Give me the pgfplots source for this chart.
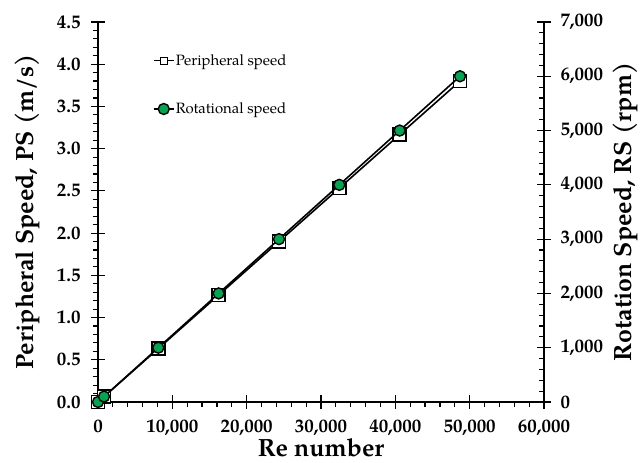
\documentclass[border=0pt]{standalone}
\usepackage{pgfplots}
\pgfplotsset{compat=1.18}
\usepackage{fontspec}
\setmainfont{TeX Gyre Pagella}
\definecolor{mygreen}{RGB}{0,166,80}
\begin{document}
\begin{tikzpicture}[x=1bp,y=1bp]
\pgfplotsset{
  common/.style={
    width=446bp, height=380bp, scale only axis,
    at={(0,0)}, anchor=south west,
    xmin=0, xmax=60000,
    tick label style={font=\fontsize{19}{22}\selectfont\bfseries},
    /pgf/number format/assume math mode=true,
    label style={font=\fontsize{25}{28}\selectfont\bfseries},
    major tick length=14bp, minor tick length=5bp,
    every tick/.style={black, line width=1.2bp},
    axis line style={line width=1.5bp},
  }
}
\begin{axis}[common,
  axis y line*=left, axis x line*=bottom,
  ymin=0, ymax=4.5,
  ytick={0,0.5,...,4.5},
  minor y tick num=4,
  xtick={0,10000,...,60000},
  minor x tick num=4,
  scaled x ticks=false,
  x tick label style={/pgf/number format/1000 sep={,}},
  y tick label style={/pgf/number format/.cd, fixed, fixed zerofill, precision=1},
  tick align=outside,
  major y tick style={xshift=7bp},
  major x tick style={yshift=7bp},
  xlabel={Re number},
  ylabel={Peripheral Speed, PS (m/s)},
  xlabel style={yshift=4bp},
  ylabel style={yshift=10bp},
]
\addplot[black, line width=1.6bp, mark=square*, mark size=6.5bp,
  mark options={fill=white, line width=1.7bp}] coordinates {
  (0,0) (812,0.063) (8117,0.633) (16233,1.267) (24350,1.900)
  (32467,2.533) (40583,3.167) (48700,3.800)
};
\end{axis}
\begin{axis}[common,
  axis y line*=right, axis x line=none,
  ymin=0, ymax=7000,
  ytick={0,1000,...,7000},
  minor y tick num=4,
  scaled y ticks=false,
  y tick label style={/pgf/number format/1000 sep={,}, xshift=13bp},
  tick align=inside,
  major y tick style={xshift=7bp},
  ylabel={Rotation Speed, RS (rpm)},
  ylabel style={yshift=-3bp},
  legend style={draw=none, fill=none, at={(axis description cs:0.123,0.915)}, anchor=north west,
    font=\fontsize{15}{18}\selectfont, row sep=36bp,
    inner sep=0bp, nodes={inner xsep=1.5bp, inner ysep=0bp}},
  legend cell align=left,
  legend image code/.code={
    \draw[black, line width=1.4bp] (0bp,0bp) -- (20bp,0bp);
    \draw[#1, only marks] plot coordinates {(10bp,0bp)};
  },
]
\addlegendimage{black, line width=1.2bp, mark=square*, mark size=3.5bp, mark options={fill=white, line width=1.2bp}}
\addlegendentry{Peripheral speed}
\addplot[black, line width=1.6bp, mark=*, mark size=5.5bp,
  mark options={fill=mygreen, line width=1.4bp}] coordinates {
  (0,0) (812,100) (8117,1000) (16233,2000) (24350,3000)
  (32467,4000) (40583,5000) (48700,6000)
};
\addlegendentry[legend image code/.code={
    \draw[black, line width=1.4bp] (0bp,0bp) -- (20bp,0bp);
    \draw[black, fill=mygreen, line width=1.2bp] (10bp,0bp) circle (3.8bp);
  }]{Rotational speed}
\end{axis}
\pgfresetboundingbox
\path[use as bounding box] (-98,-61) rectangle (546,402);
\end{tikzpicture}
\end{document}
